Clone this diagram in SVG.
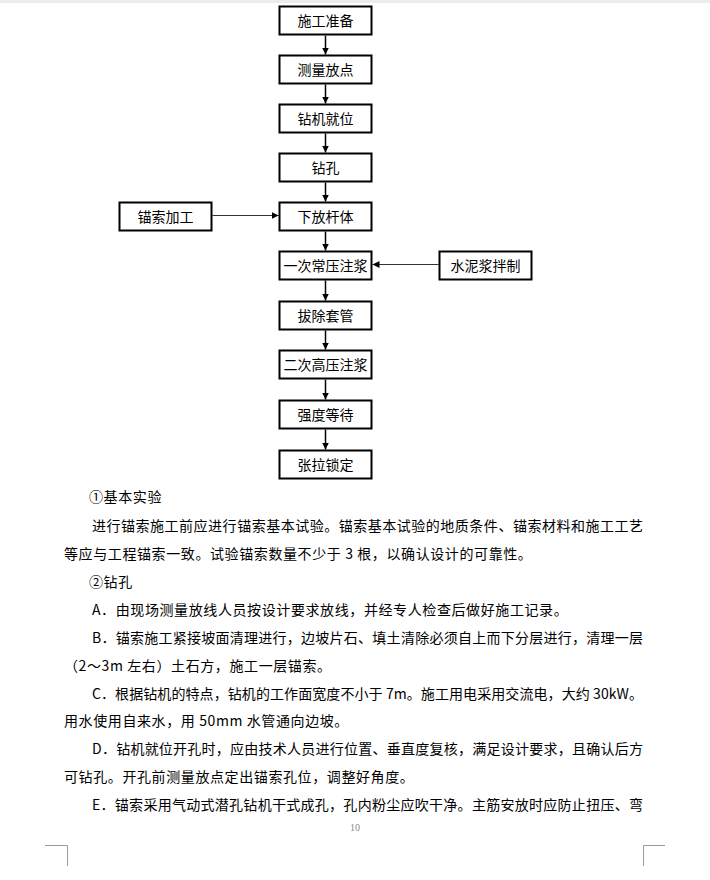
<svg xmlns="http://www.w3.org/2000/svg" width="710" height="880" viewBox="0 0 710 880">
<defs>
<style>
.box rect{fill:#fff;stroke:#000;stroke-width:2}
.box text{font-family:"Noto Sans CJK SC","Noto Sans",sans-serif;font-size:14px;fill:#000;text-anchor:middle}
.conn line{stroke:#000;stroke-width:1.5}
.conn line.h{stroke:#333;stroke-width:1}
.body{font-family:"Noto Sans CJK SC","Noto Sans",sans-serif;font-size:14px;fill:#000}
.mark{stroke:#999;stroke-width:1;fill:none}
</style>
<marker id="ah" viewBox="0 0 10 10" refX="10" refY="5" markerWidth="7" markerHeight="7" markerUnits="userSpaceOnUse" orient="auto">
<path d="M0,0 L10,5 L0,10 z" fill="#000"/>
</marker>
</defs>
<rect x="0" y="0" width="710" height="880" fill="#fff"/>
<rect x="0" y="0" width="710" height="3" fill="#ececec"/>

<g class="conn">
<line x1="325.5" y1="35.5" x2="325.5" y2="54.5" marker-end="url(#ah)"/>
<line x1="325.5" y1="84.5" x2="325.5" y2="103.5" marker-end="url(#ah)"/>
<line x1="325.5" y1="133.5" x2="325.5" y2="152.5" marker-end="url(#ah)"/>
<line x1="325.5" y1="182.5" x2="325.5" y2="201.5" marker-end="url(#ah)"/>
<line x1="325.5" y1="231.5" x2="325.5" y2="250.5" marker-end="url(#ah)"/>
<line x1="325.5" y1="280.5" x2="325.5" y2="300.5" marker-end="url(#ah)"/>
<line x1="325.5" y1="330.5" x2="325.5" y2="349.5" marker-end="url(#ah)"/>
<line x1="325.5" y1="379.5" x2="325.5" y2="399.5" marker-end="url(#ah)"/>
<line x1="325.5" y1="429.5" x2="325.5" y2="449.5" marker-end="url(#ah)"/>
<line class="h" x1="212.5" y1="215.5" x2="278.5" y2="215.5" marker-end="url(#ah)"/>
<line class="h" x1="438.5" y1="264.5" x2="372.5" y2="264.5" marker-end="url(#ah)"/>
</g>

<g id="n1" class="box"><rect x="279.5" y="6.5" width="92" height="28"/><text x="325.5" y="25.5">施工准备</text></g>
<g id="n2" class="box"><rect x="279.5" y="55.5" width="92" height="28"/><text x="325.5" y="74.5">测量放点</text></g>
<g id="n3" class="box"><rect x="279.5" y="104.5" width="92" height="28"/><text x="325.5" y="123.5">钻机就位</text></g>
<g id="n4" class="box"><rect x="279.5" y="153.5" width="92" height="28"/><text x="325.5" y="172.5">钻孔</text></g>
<g id="n5" class="box"><rect x="279.5" y="202.5" width="92" height="28"/><text x="325.5" y="221.5">下放杆体</text></g>
<g id="n6" class="box"><rect x="279.5" y="251.5" width="92" height="28"/><text x="325.5" y="270.5">一次常压注浆</text></g>
<g id="n7" class="box"><rect x="279.5" y="301.5" width="92" height="28"/><text x="325.5" y="320.5">拔除套管</text></g>
<g id="n8" class="box"><rect x="279.5" y="350.5" width="92" height="28"/><text x="325.5" y="369.5">二次高压注浆</text></g>
<g id="n9" class="box"><rect x="279.5" y="400.5" width="92" height="28"/><text x="325.5" y="419.5">强度等待</text></g>
<g id="n10" class="box"><rect x="279.5" y="450.5" width="92" height="28"/><text x="325.5" y="469.5">张拉锁定</text></g>
<g id="n11" class="box"><rect x="119.5" y="202.5" width="92" height="28"/><text x="165.5" y="221.5">锚索加工</text></g>
<g id="n12" class="box"><rect x="439.5" y="251.5" width="92" height="28"/><text x="485.5" y="270.5">水泥浆拌制</text></g>

<g class="body">
<text x="89" y="502" letter-spacing="0.6">①基本实验</text>
<text x="92" y="531" textLength="551" lengthAdjust="spacing">进行锚索施工前应进行锚索基本试验。锚索基本试验的地质条件、锚索材料和施工工艺</text>
<text x="64" y="559" letter-spacing="0.6">等应与工程锚索一致。试验锚索数量不少于 3 根，以确认设计的可靠性。</text>
<text x="89" y="587" letter-spacing="0.6">②钻孔</text>
<text x="92" y="615" letter-spacing="0.6">A．由现场测量放线人员按设计要求放线，并经专人检查后做好施工记录。</text>
<text x="92" y="643" textLength="551" lengthAdjust="spacing">B．锚索施工紧接坡面清理进行，边坡片石、填土清除必须自上而下分层进行，清理一层</text>
<text x="64" y="671" letter-spacing="0.6">（2～3m 左右）土石方，施工一层锚索。</text>
<text x="92" y="699" textLength="551" lengthAdjust="spacing">C．根据钻机的特点，钻机的工作面宽度不小于 7m。施工用电采用交流电，大约 30kW。</text>
<text x="64" y="726" letter-spacing="0.6">用水使用自来水，用 50mm 水管通向边坡。</text>
<text x="92" y="754" textLength="551" lengthAdjust="spacing">D．钻机就位开孔时，应由技术人员进行位置、垂直度复核，满足设计要求，且确认后方</text>
<text x="64" y="782" letter-spacing="0.6">可钻孔。开孔前测量放点定出锚索孔位，调整好角度。</text>
<text x="92" y="810" textLength="551" lengthAdjust="spacing">E．锚索采用气动式潜孔钻机干式成孔，孔内粉尘应吹干净。主筋安放时应防止扭压、弯</text>
</g>
<text x="355" y="831" font-family="Liberation Serif,serif" font-size="10" fill="#888" text-anchor="middle">10</text>

<path class="mark" d="M45,845.5 H67.5 V866"/>
<path class="mark" d="M665,845.5 H643.5 V866"/>
</svg>
